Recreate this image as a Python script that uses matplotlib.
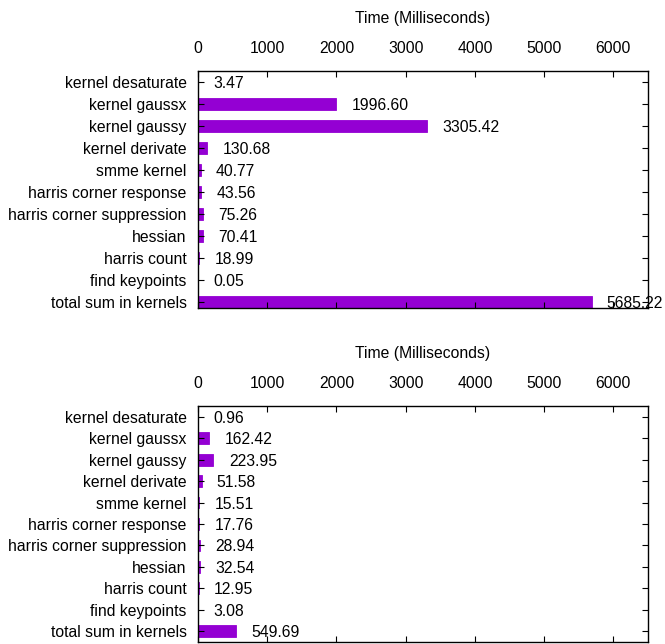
import matplotlib.pyplot as plt

plt.rcParams["font.family"] = ["Liberation Sans", "DejaVu Sans"]
plt.rcParams["font.size"] = 11.3

kernels = ["kernel desaturate", "kernel gaussx", "kernel gaussy", "kernel derivate",
           "smme kernel", "harris corner response", "harris corner suppression",
           "hessian", "harris count", "find keypoints", "total sum in kernels"]
times_top = [3.47, 1996.60, 3305.42, 130.68, 40.77, 43.56, 75.26, 70.41, 18.99, 0.05, 5685.22]
times_bottom = [0.96, 162.42, 223.95, 51.58, 15.51, 17.76, 28.94, 32.54, 12.95, 3.08, 549.69]
xticks = [0, 1000, 2000, 3000, 4000, 5000, 6000]

bar_color = "#9400d3"


def draw_panel(ax, values, ylim):
    pos = list(range(len(kernels)))
    ax.barh(pos, values, height=0.55, color=bar_color, edgecolor=bar_color, linewidth=0.6)
    for p, v in zip(pos, values):
        ax.annotate(f"{v:.2f}", (v, p), xytext=(11, 0), textcoords="offset points",
                    va="center_baseline", ha="left", annotation_clip=False)
    ax.set_xlim(0, 6500)
    ax.set_ylim(*ylim)
    ax.set_yticks(pos)
    ax.set_yticklabels(kernels)
    ax.set_xticks(xticks)
    ax.xaxis.set_label_position("top")
    ax.set_xlabel("Time (Milliseconds)", labelpad=13)
    ax.tick_params(axis="x", direction="in", top=True, bottom=True,
                   labeltop=True, labelbottom=False, length=4, pad=10.5)
    ax.tick_params(axis="y", direction="in", left=True, right=True, length=4, pad=8)
    for s in ax.spines.values():
        s.set_linewidth(1.0)


fig = plt.figure(figsize=(6.65, 6.44), dpi=100)
ax1 = fig.add_axes([0.2977, 0.5217, 0.6767, 0.3681])
ax2 = fig.add_axes([0.2977, 0.0031, 0.6767, 0.3665])

draw_panel(ax1, times_top, (10.26, -0.52))
draw_panel(ax2, times_bottom, (10.5, -0.5))

fig.savefig("out.png", dpi=100)
plt.close(fig)
